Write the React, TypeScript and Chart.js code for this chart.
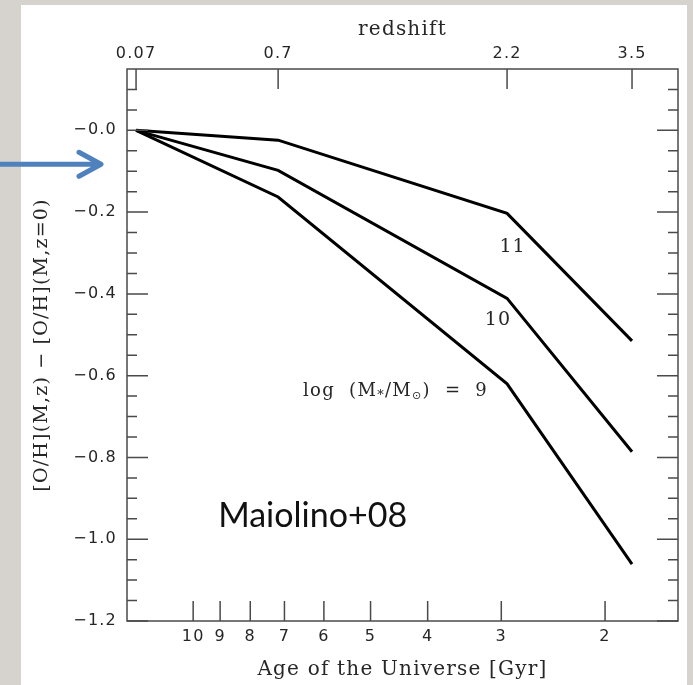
import { useEffect, useRef } from 'react';
import { Chart, registerables } from 'chart.js';
Chart.register(...registerables);

// ---- data ----
const redshiftLabels = ['0.07', '0.7', '2.2', '3.5'];
const agesAtRedshift = [12.5, 7.175, 2.933, 1.8]; // Gyr
const ageTicks = [10, 9, 8, 7, 6, 5, 4, 3, 2];
const yMajorTicks = [-1.2, -1.0, -0.8, -0.6, -0.4, -0.2, 0.0];
const yMinorTicks = [-1.15, -1.1, -1.05, -0.95, -0.9, -0.85, -0.75, -0.7, -0.65, -0.55, -0.5, -0.45,
  -0.35, -0.3, -0.25, -0.15, -0.1, -0.05, 0.05, 0.1];
const logM11 = [0, -0.024, -0.203, -0.515];
const logM10 = [0, -0.098, -0.411, -0.786];
const logM9 = [0, -0.163, -0.62, -1.061];
const xMin = 1.504;
const xMax = 12.95;
const yMin = -1.2;
const yMax = 0.15;

const TICK_FONT = { family: 'DejaVu Sans', size: 16 };
const TITLE_FONT = { family: 'DejaVu Serif', size: 20 };
const INK = '#262626';
const FRAME = '#4a4a4a';

const decorPlugin = {
  id: 'decor',
  beforeDraw(chart: any) {
    const ctx = chart.ctx;
    ctx.save();
    ctx.fillStyle = '#d6d3cf';
    ctx.fillRect(0, 0, chart.width, chart.height);
    ctx.fillStyle = '#ffffff';
    ctx.fillRect(21, 5, 666, chart.height - 5);
    ctx.restore();
    ctx.letterSpacing = '1.2px';
  },
  afterDatasetsDraw(chart: any) {
    const ctx = chart.ctx;
    const { left, right, top, bottom } = chart.chartArea;
    const xs = chart.scales.x;
    const xt = chart.scales.x2;
    const ys = chart.scales.y;
    ctx.save();
    ctx.letterSpacing = '0px';
    ctx.strokeStyle = FRAME;
    ctx.lineWidth = 1.5;
    ctx.strokeRect(left, top, right - left, bottom - top);
    ctx.beginPath();
    for (const v of yMajorTicks) {
      const py = ys.getPixelForValue(v);
      ctx.moveTo(left, py); ctx.lineTo(left + 21, py);
      ctx.moveTo(right, py); ctx.lineTo(right - 21, py);
    }
    for (const v of yMinorTicks) {
      const py = ys.getPixelForValue(v);
      ctx.moveTo(left, py); ctx.lineTo(left + 10, py);
      ctx.moveTo(right, py); ctx.lineTo(right - 10, py);
    }
    for (const v of ageTicks) {
      const px = xs.getPixelForValue(v);
      ctx.moveTo(px, bottom); ctx.lineTo(px, bottom - 20);
    }
    for (const v of agesAtRedshift) {
      const px = xt.getPixelForValue(v);
      ctx.moveTo(px, top); ctx.lineTo(px, top + 20);
    }
    ctx.stroke();

    // curve labels
    ctx.fillStyle = INK;
    ctx.letterSpacing = '1px';
    ctx.font = '19px "DejaVu Serif"';
    ctx.textAlign = 'center';
    ctx.textBaseline = 'middle';
    ctx.fillText('11', xs.getPixelForValue(2.87), ys.getPixelForValue(-0.285));
    ctx.fillText('10', xs.getPixelForValue(3.04), ys.getPixelForValue(-0.463));

    // log (M*/Msun) = 9
    ctx.textAlign = 'left';
    ctx.textBaseline = 'alphabetic';
    ctx.letterSpacing = '1.3px';
    let px = xs.getPixelForValue(6.51);
    const base = ys.getPixelForValue(-0.634) + 6;
    const put = (t: string, font: string, dy: number) => {
      ctx.font = font;
      ctx.fillText(t, px, base + dy);
      px += ctx.measureText(t).width;
    };
    const f = '18px "DejaVu Serif"';
    put('log  (M', f, 0);
    put('*', '13px "DejaVu Serif"', 3);
    put('/M', f, 0);
    put('\u2299', '11px "DejaVu Sans"', 3);
    put(')  =  9', f, 0);

    // Maiolino+08
    ctx.letterSpacing = '0px';
    ctx.fillStyle = '#111';
    ctx.font = '34px Lato';
    ctx.fillText('Maiolino+08', xs.getPixelForValue(9.07), ys.getPixelForValue(-0.971));

    // blue arrow
    const ay = ys.getPixelForValue(-0.083);
    ctx.strokeStyle = '#4f81bd';
    ctx.lineWidth = 5;
    ctx.lineCap = 'round';
    ctx.lineJoin = 'round';
    ctx.beginPath();
    ctx.moveTo(0, ay); ctx.lineTo(98, ay);
    ctx.moveTo(79, ay - 12); ctx.lineTo(101, ay); ctx.lineTo(79, ay + 12);
    ctx.stroke();
    ctx.restore();
  },
};

export default function App() {
  const ref = useRef<HTMLCanvasElement>(null);
  useEffect(() => {
    if (!ref.current) return;
    const mk = (vals: number[]) => agesAtRedshift.map((a, i) => ({ x: a, y: vals[i] }));
    const chart = new Chart(ref.current, {
      type: 'line',
      data: {
        datasets: [
          { label: 'log M = 11', data: mk(logM11) },
          { label: 'log M = 10', data: mk(logM10) },
          { label: 'log M = 9', data: mk(logM9) },
        ],
      },
      options: {
        responsive: false,
        animation: false,
        devicePixelRatio: 1,
        layout: { padding: { left: 0, right: 15, top: 0, bottom: 0 } },
        plugins: { legend: { display: false }, tooltip: { enabled: false } },
        elements: {
          point: { radius: 0 },
          line: { borderWidth: 3, borderColor: '#000', tension: 0, borderJoinStyle: 'miter' },
        },
        scales: {
          x: {
            type: 'logarithmic',
            position: 'bottom',
            reverse: true,
            min: xMin,
            max: xMax,
            afterBuildTicks: (s: any) => { s.ticks = ageTicks.map((v) => ({ value: v })); },
            afterFit: (s: any) => { s.height = 64; },
            grid: { display: false, drawTicks: false },
            border: { display: false },
            ticks: { padding: 6, font: TICK_FONT, color: INK, autoSkip: false, maxRotation: 0,
              callback: (v: any) => String(v) },
            title: { display: true, text: 'Age of the Universe [Gyr]', font: TITLE_FONT, color: INK,
              padding: { top: 0, bottom: 3 } },
          },
          x2: {
            type: 'logarithmic',
            position: 'top',
            reverse: true,
            min: xMin,
            max: xMax,
            afterBuildTicks: (s: any) => { s.ticks = agesAtRedshift.map((v) => ({ value: v })); },
            afterFit: (s: any) => { s.height = 69; },
            grid: { display: false, drawTicks: false },
            border: { display: false },
            ticks: { padding: 6, font: TICK_FONT, color: INK, autoSkip: false, maxRotation: 0,
              callback: (_v: any, i: number) => redshiftLabels[i] },
            title: { display: true, text: 'redshift', font: TITLE_FONT, color: INK,
              padding: { top: 18, bottom: 0 } },
          },
          y: {
            type: 'linear',
            position: 'left',
            min: yMin,
            max: yMax,
            afterBuildTicks: (s: any) => { s.ticks = yMajorTicks.map((v) => ({ value: v })); },
            afterFit: (s: any) => { s.width = 127; },
            grid: { display: false, drawTicks: false },
            border: { display: false },
            ticks: { padding: 10, font: TICK_FONT, color: INK, autoSkip: false,
              callback: (v: any) => '\u2212' + Math.abs(Number(v)).toFixed(1) },
            title: { display: true, text: '[O/H](M,z) \u2212 [O/H](M,z=0)', font: { family: 'DejaVu Serif', size: 19 }, color: INK,
              padding: { top: 31, bottom: 0 } },
          },
        },
      },
      plugins: [decorPlugin],
    } as any);
    return () => chart.destroy();
  }, []);
  return (
    <div style={{ position: 'absolute', left: 0, top: 0, width: 693, height: 685 }}>
      <canvas ref={ref} width={693} height={685} style={{ display: 'block' }} />
    </div>
  );
}
